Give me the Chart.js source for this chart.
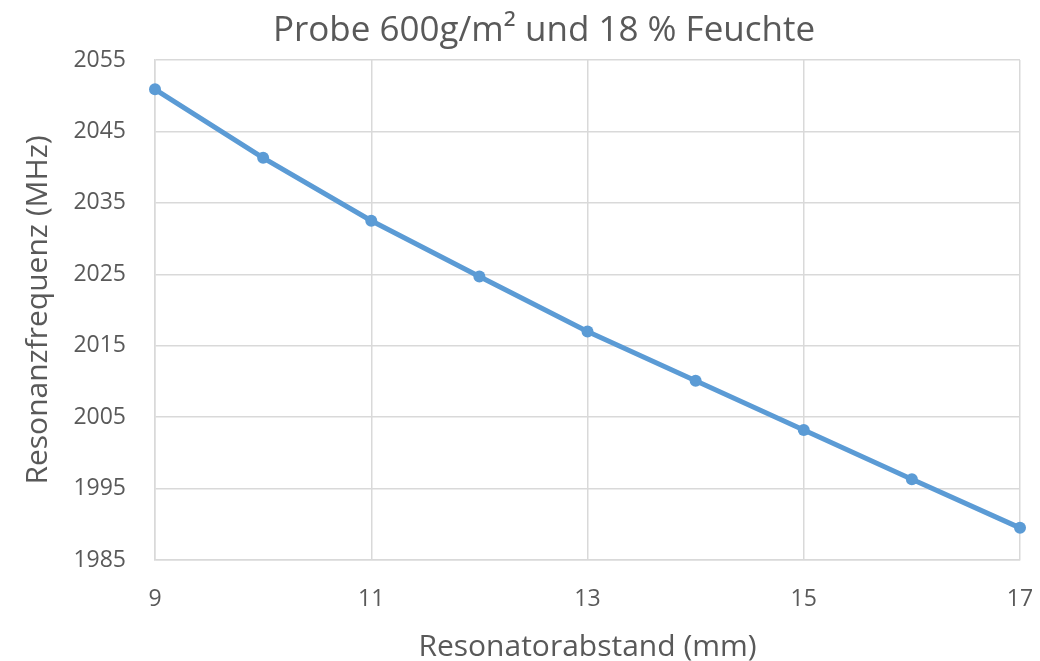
<!DOCTYPE html>
<html>
<head>
<meta charset="utf-8">
<script src="https://cdn.jsdelivr.net/npm/chart.js@4"></script>
<style>
  html, body { margin: 0; padding: 0; background: #fff; }
  #wrap { width: 1040px; height: 661px; }
</style>
</head>
<body>
<div id="wrap"><canvas id="chart" width="1040" height="661"></canvas></div>
<script>
// Resonator distance (mm) vs. resonance frequency (MHz)
const abstand = [9, 10, 11, 12, 13, 14, 15, 16, 17];
const frequenz = [2050.9, 2041.3, 2032.5, 2024.7, 2017.0, 2010.1, 2003.2, 1996.3, 1989.5];
const xTicks = [9, 11, 13, 15, 17];
const yTicks = [1985, 1995, 2005, 2015, 2025, 2035, 2045, 2055];

const textColor = '#595959';
const gridColor = '#d9d9d9';
const fontFamily = "'Open Sans', 'Noto Sans', sans-serif";

const points = abstand.map((x, i) => ({ x: x, y: frequenz[i] }));

// the title in the original sits a bit right of the canvas centre
const shiftTitle = {
    id: 'shiftTitle',
    afterLayout(chart) {
        if (chart.titleBlock) chart.titleBlock.left += 68;
    }
};

const ctx = document.getElementById('chart').getContext('2d');
new Chart(ctx, {
    type: 'line',
    data: {
        datasets: [{
            label: 'Resonanzfrequenz',
            data: points,
            borderColor: '#5b9bd5',
            backgroundColor: '#5b9bd5',
            borderWidth: 5,
            pointRadius: 6,
            pointBorderWidth: 0,
            fill: false,
            tension: 0,
            clip: false
        }]
    },
    plugins: [shiftTitle],
    options: {
        responsive: false,
        animation: false,
        layout: { padding: { top: 0, right: 20, left: 0, bottom: 0 } },
        plugins: {
            legend: { display: false },
            tooltip: { enabled: false },
            title: {
                display: true,
                text: 'Probe 600g/m² und 18 % Feuchte',
                color: textColor,
                font: { family: fontFamily, size: 35, weight: 'normal' },
                padding: { top: 10, bottom: 8 }
            }
        },
        scales: {
            x: {
                type: 'linear',
                min: xTicks[0],
                max: xTicks[xTicks.length - 1],
                afterBuildTicks: axis => { axis.ticks = xTicks.map(v => ({ value: v })); },
                afterFit: axis => { axis.height = 101; },
                grid: { color: gridColor, lineWidth: 1.5, drawTicks: true, tickLength: 26, tickColor: 'rgba(0,0,0,0)' },
                border: { color: gridColor, width: 1.5 },
                ticks: {
                    color: textColor,
                    padding: 0,
                    callback: v => String(v),
                    font: { family: fontFamily, size: 23 }
                },
                title: {
                    display: true,
                    text: 'Resonatorabstand (mm)',
                    color: textColor,
                    font: { family: fontFamily, size: 30, lineHeight: 0.9 },
                    padding: { top: 0, bottom: 0 }
                }
            },
            y: {
                min: yTicks[0],
                max: yTicks[yTicks.length - 1],
                afterBuildTicks: axis => { axis.ticks = yTicks.map(v => ({ value: v })); },
                afterFit: axis => { axis.width = 155; },
                grid: { color: gridColor, lineWidth: 1.5, drawTicks: false },
                border: { color: gridColor, width: 1.5 },
                ticks: {
                    color: textColor,
                    padding: 29,
                    callback: v => String(v),
                    font: { family: fontFamily, size: 23 }
                },
                title: {
                    display: true,
                    text: 'Resonanzfrequenz (MHz)',
                    color: textColor,
                    font: { family: fontFamily, size: 30 },
                    padding: { top: 20, bottom: 0 }
                }
            }
        }
    }
});
</script>
</body>
</html>
